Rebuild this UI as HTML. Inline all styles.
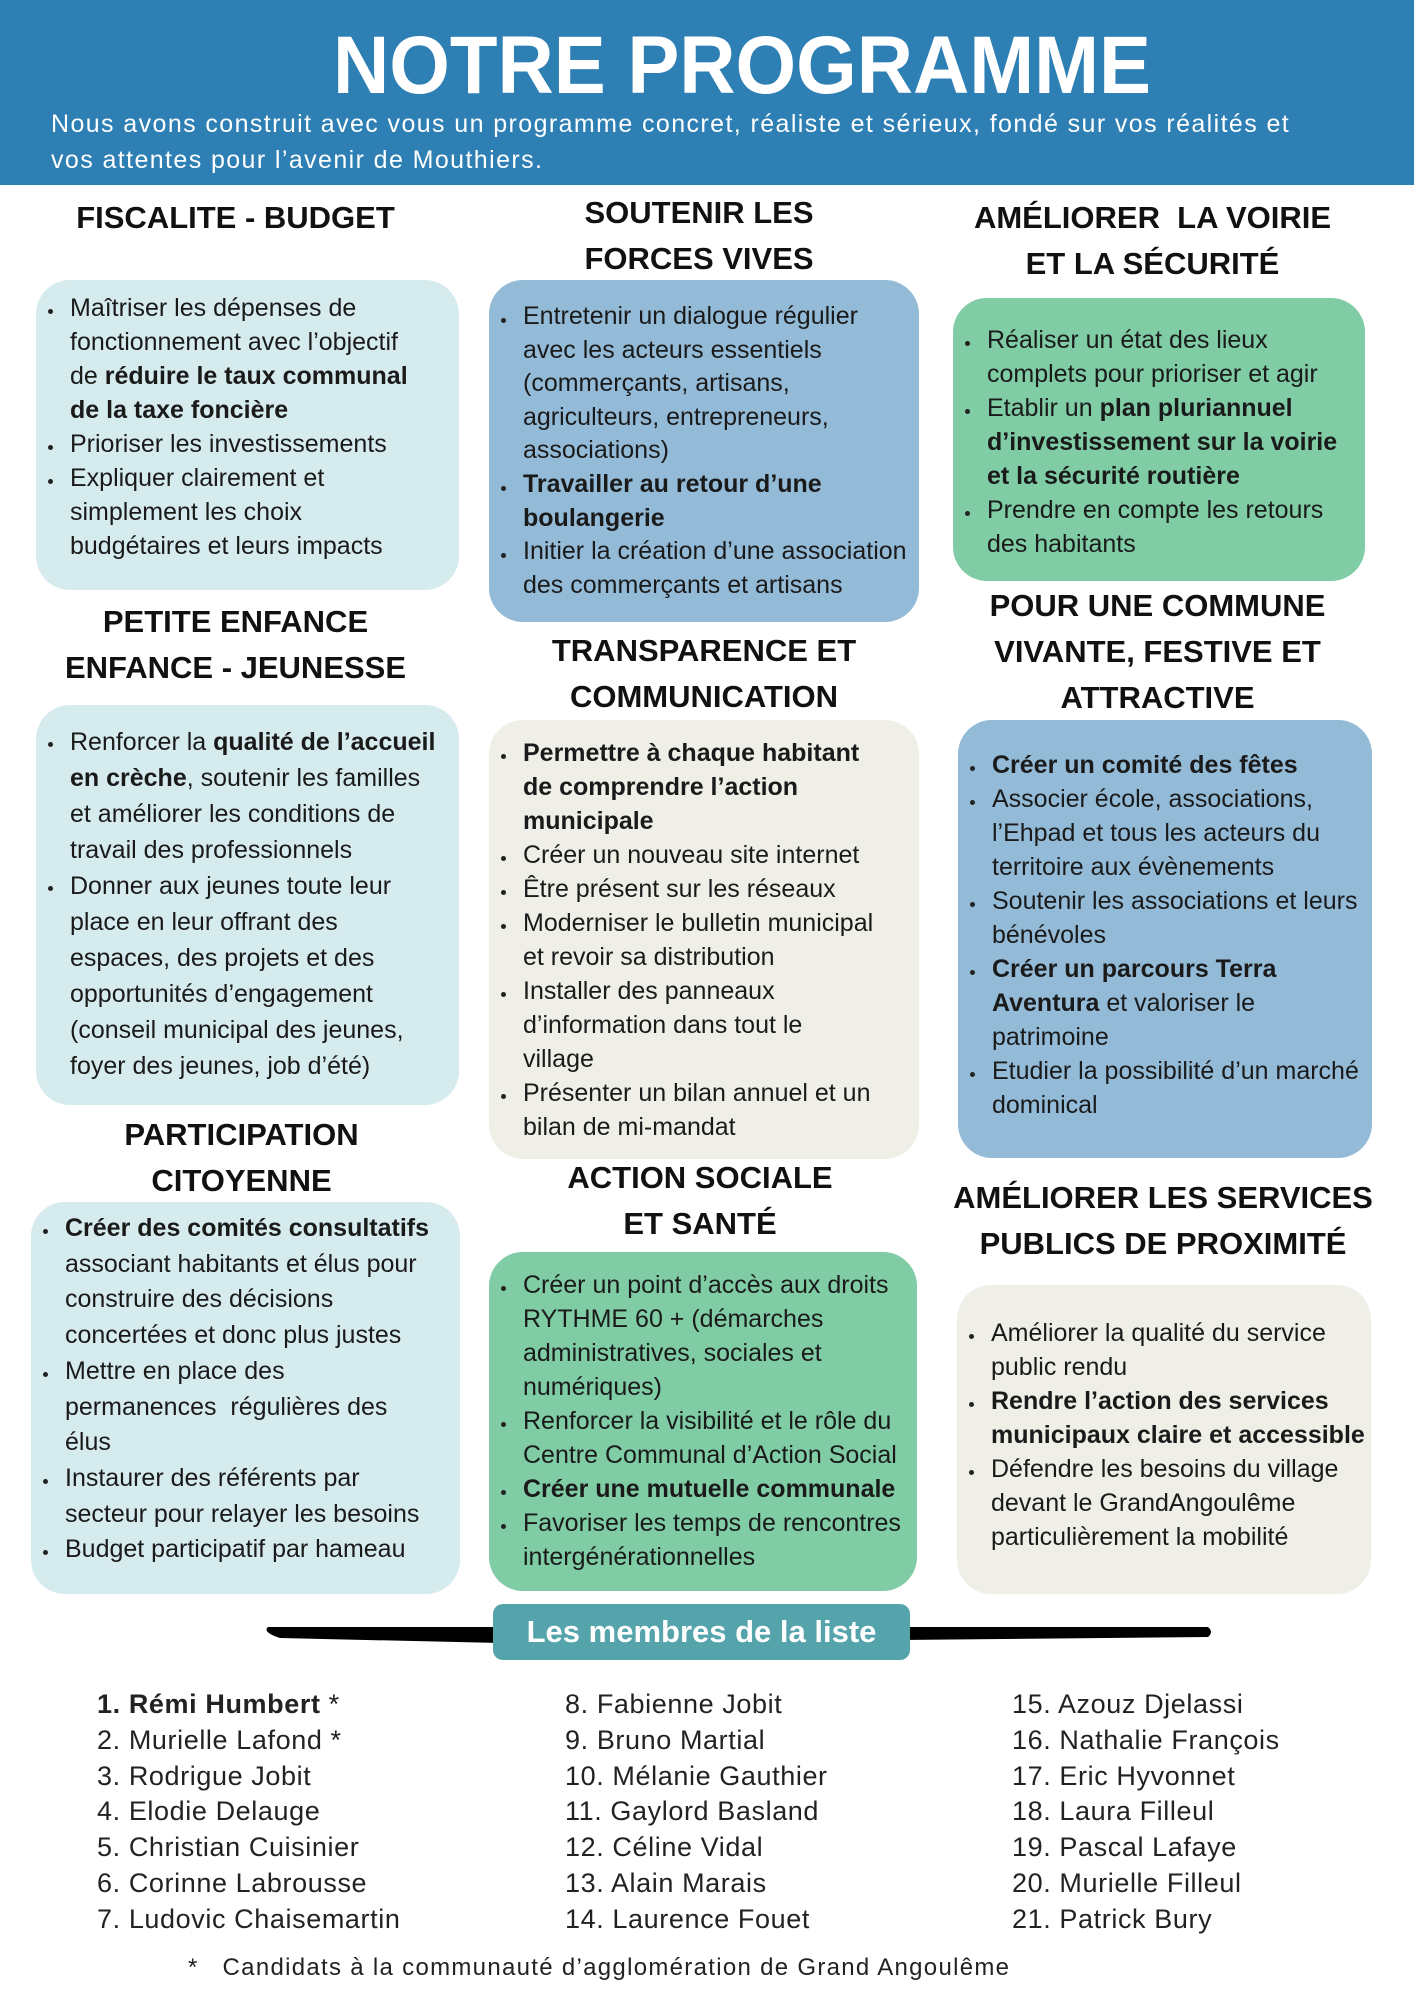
<!DOCTYPE html>
<html><head><meta charset="utf-8"><style>
*{margin:0;padding:0;box-sizing:border-box}
body{width:1414px;height:2000px;background:#fff;position:relative;overflow:hidden;font-family:"Liberation Sans",Arial,sans-serif;color:#1a1a1a}
.hdr{position:absolute;left:0;top:0;width:1414px;height:185px;background:#2e7fb4}
.title{position:absolute;left:35px;width:1414px;top:18px;text-align:center;color:#fff;font-weight:bold;font-size:82px;line-height:96px;letter-spacing:0px;transform:scaleX(0.95)}
.sub{position:absolute;left:51px;top:106px;color:#fff;font-size:25px;line-height:36px;letter-spacing:1.4px}
.h{position:absolute;text-align:center;font-weight:bold;font-size:31px;line-height:46px;color:#111;white-space:nowrap}
.box{position:absolute;border-radius:34px;font-size:25px;white-space:nowrap}
.box p{position:relative;padding-left:34px}
.box p:before{content:"";position:absolute;left:12px;width:5px;height:5px;border-radius:50%;background:#222;top:0.72em}
.box p.c:before{display:none}
.lb{background:#d6ebee}.bl{background:#93bbd8}.gr{background:#7fcca5}.be{background:#efefe7}
.m{position:absolute;font-size:27px;line-height:35.8px;white-space:nowrap;color:#222;letter-spacing:0.6px}
</style></head><body>
<div class="hdr"></div>
<div class="title">NOTRE PROGRAMME</div>
<div class="sub">Nous avons construit avec vous un programme concret, réaliste et sérieux, fondé sur vos réalités et<br>vos attentes pour l’avenir de Mouthiers.</div>

<div class="h" style="left:24px;width:423px;top:195px">FISCALITE - BUDGET</div>
<div class="box lb" style="left:36px;top:280px;width:423px;height:310px;padding-top:11px;line-height:34px">
<p>Maîtriser les dépenses de</p><p class="c">fonctionnement avec l’objectif</p><p class="c">de <b>réduire le taux communal</b></p><p class="c"><b>de la taxe foncière</b></p>
<p>Prioriser les investissements</p><p>Expliquer clairement et</p><p class="c">simplement les choix</p><p class="c">budgétaires et leurs impacts</p></div>

<div class="h" style="left:24px;width:423px;top:599px">PETITE ENFANCE<br>ENFANCE - JEUNESSE</div>
<div class="box lb" style="left:36px;top:705px;width:423px;height:400px;padding-top:19px;line-height:36px">
<p>Renforcer la <b>qualité de l’accueil</b></p><p class="c"><b>en crèche</b>, soutenir les familles</p><p class="c">et améliorer les conditions de</p><p class="c">travail des professionnels</p>
<p>Donner aux jeunes toute leur</p><p class="c">place en leur offrant des</p><p class="c">espaces, des projets et des</p><p class="c">opportunités d’engagement</p><p class="c">(conseil municipal des jeunes,</p><p class="c">foyer des jeunes, job d’été)</p></div>

<div class="h" style="left:30px;width:423px;top:1112px">PARTICIPATION<br>CITOYENNE</div>
<div class="box lb" style="left:31px;top:1202px;width:429px;height:392px;padding-top:9px;line-height:35.7px">
<p><b>Créer des comités consultatifs</b></p><p class="c">associant habitants et élus pour</p><p class="c">construire des décisions</p><p class="c">concertées et donc plus justes</p>
<p>Mettre en place des</p><p class="c">permanences&nbsp; régulières des</p><p class="c">élus</p><p>Instaurer des référents par</p><p class="c">secteur pour relayer les besoins</p><p>Budget participatif par hameau</p></div>

<div class="h" style="left:489px;width:420px;top:190px">SOUTENIR LES<br>FORCES VIVES</div>
<div class="box bl" style="left:489px;top:280px;width:430px;height:342px;padding-top:20px;line-height:33.6px">
<p>Entretenir un dialogue régulier</p><p class="c">avec les acteurs essentiels</p><p class="c">(commerçants, artisans,</p><p class="c">agriculteurs, entrepreneurs,</p><p class="c">associations)</p>
<p><b>Travailler au retour d’une</b></p><p class="c"><b>boulangerie</b></p><p>Initier la création d’une association</p><p class="c">des commerçants et artisans</p></div>

<div class="h" style="left:489px;width:430px;top:628px">TRANSPARENCE ET<br>COMMUNICATION</div>
<div class="box be" style="left:489px;top:720px;width:430px;height:439px;padding-top:16px;line-height:34px">
<p><b>Permettre à chaque habitant</b></p><p class="c"><b>de comprendre l’action</b></p><p class="c"><b>municipale</b></p>
<p>Créer un nouveau site internet</p><p>Être présent sur les réseaux</p><p>Moderniser le bulletin municipal</p><p class="c">et revoir sa distribution</p><p>Installer des panneaux</p><p class="c">d’information dans tout le</p><p class="c">village</p><p>Présenter un bilan annuel et un</p><p class="c">bilan de mi-mandat</p></div>

<div class="h" style="left:485px;width:430px;top:1155px">ACTION SOCIALE<br>ET SANTÉ</div>
<div class="box gr" style="left:489px;top:1252px;width:428px;height:339px;padding-top:16px;line-height:34px">
<p>Créer un point d’accès aux droits</p><p class="c">RYTHME 60 + (démarches</p><p class="c">administratives, sociales et</p><p class="c">numériques)</p>
<p>Renforcer la visibilité et le rôle du</p><p class="c">Centre Communal d’Action Social</p><p><b>Créer une mutuelle communale</b></p><p>Favoriser les temps de rencontres</p><p class="c">intergénérationnelles</p></div>

<div class="h" style="left:945px;width:415px;top:195px">AMÉLIORER&nbsp; LA VOIRIE<br>ET LA SÉCURITÉ</div>
<div class="box gr" style="left:953px;top:298px;width:412px;height:283px;padding-top:25px;line-height:34px">
<p>Réaliser un état des lieux</p><p class="c">complets pour prioriser et agir</p><p>Etablir un <b>plan pluriannuel</b></p><p class="c"><b>d’investissement sur la voirie</b></p><p class="c"><b>et la sécurité routière</b></p>
<p>Prendre en compte les retours</p><p class="c">des habitants</p></div>

<div class="h" style="left:950px;width:415px;top:583px">POUR UNE COMMUNE<br>VIVANTE, FESTIVE ET<br>ATTRACTIVE</div>
<div class="box bl" style="left:958px;top:720px;width:414px;height:438px;padding-top:28px;line-height:34px">
<p><b>Créer un comité des fêtes</b></p><p>Associer école, associations,</p><p class="c">l’Ehpad et tous les acteurs du</p><p class="c">territoire aux évènements</p>
<p>Soutenir les associations et leurs</p><p class="c">bénévoles</p><p><b>Créer un parcours Terra</b></p><p class="c"><b>Aventura</b> et valoriser le</p><p class="c">patrimoine</p><p>Etudier la possibilité d’un marché</p><p class="c">dominical</p></div>

<div class="h" style="left:953px;width:420px;top:1175px">AMÉLIORER LES SERVICES<br>PUBLICS DE PROXIMITÉ</div>
<div class="box be" style="left:957px;top:1285px;width:414px;height:309px;padding-top:31px;line-height:34px">
<p>Améliorer la qualité du service</p><p class="c">public rendu</p><p><b>Rendre l’action des services</b></p><p class="c"><b>municipaux claire et accessible</b></p>
<p>Défendre les besoins du village</p><p class="c">devant le GrandAngoulême</p><p class="c">particulièrement la mobilité</p></div>

<svg style="position:absolute;left:0;top:0" width="1414" height="2000">
<path d="M268 1627 L1208 1627 Q1214 1632 1208 1637 L900 1640 L500 1643 L280 1638 Q262 1632 268 1627Z" fill="#000"/>
</svg>
<div style="position:absolute;left:493px;top:1604px;width:417px;height:56px;background:#55a3ab;border-radius:10px;color:#fff;font-weight:bold;font-size:31px;line-height:56px;text-align:center">Les membres de la liste</div>

<div class="m" style="left:97px;top:1687px"><b>1. Rémi Humbert</b> *<br>2. Murielle Lafond *<br>3. Rodrigue Jobit<br>4. Elodie Delauge<br>5. Christian Cuisinier<br>6. Corinne Labrousse<br>7. Ludovic Chaisemartin</div>
<div class="m" style="left:565px;top:1687px">8. Fabienne Jobit<br>9. Bruno Martial<br>10. Mélanie Gauthier<br>11. Gaylord Basland<br>12. Céline Vidal<br>13. Alain Marais<br>14. Laurence Fouet</div>
<div class="m" style="left:1012px;top:1687px">15. Azouz Djelassi<br>16. Nathalie François<br>17. Eric Hyvonnet<br>18. Laura Filleul<br>19. Pascal Lafaye<br>20. Murielle Filleul<br>21. Patrick Bury</div>
<div class="m" style="left:188px;top:1950px;font-size:24px;letter-spacing:1.3px">*&nbsp;&nbsp; Candidats à la communauté d’agglomération de Grand Angoulême</div>
</body></html>
